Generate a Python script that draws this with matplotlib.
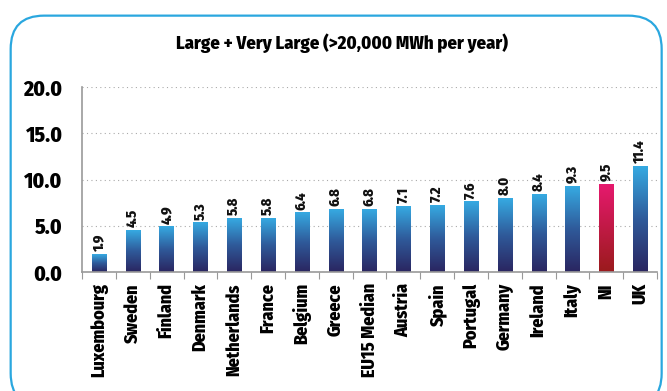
import numpy as np
import matplotlib.pyplot as plt
from matplotlib.colors import LinearSegmentedColormap
from matplotlib.patches import FancyBboxPatch

# ── Data ──────────────────────────────────────────────────────────────────────
countries = ["Luxembourg", "Sweden", "Finland", "Denmark", "Netherlands", "France",
             "Belgium", "Greece", "EU15 Median", "Austria", "Spain", "Portugal",
             "Germany", "Ireland", "Italy", "NI", "UK"]
values = [1.9, 4.5, 4.9, 5.3, 5.8, 5.8, 6.4, 6.8, 6.8, 7.1, 7.2, 7.6,
          8.0, 8.4, 9.3, 9.5, 11.4]
highlight = "NI"
yticks = [0.0, 5.0, 10.0, 15.0, 20.0]

# ── Style ─────────────────────────────────────────────────────────────────────
WEIGHT = 800
plt.rcParams["font.family"] = ["Fira Sans Condensed", "DejaVu Sans"]
plt.rcParams["font.weight"] = WEIGHT

blue_cmap = LinearSegmentedColormap.from_list("blue", ["#2a2560", "#2f5a9a", "#36aae2"])
red_cmap = LinearSegmentedColormap.from_list("red", ["#9a1a1c", "#c01a45", "#e6196e"])

fig = plt.figure(figsize=(6.67, 3.91), dpi=100)
ax = fig.add_axes([0.123, 0.304, 0.862, 0.473])

# rounded frame around the whole chart
frame = FancyBboxPatch((0.016, -0.04), 0.976, 1.0, boxstyle="round,pad=0,rounding_size=0.05",
                       transform=fig.transFigure, facecolor="none", edgecolor="#2aa7df",
                       linewidth=1.6, clip_on=False, mutation_aspect=667 / 391)
fig.patches.append(frame)

x = np.arange(len(countries))
width = 0.42
bars = ax.bar(x, values, width=width, color="none", zorder=2)

# vertical gradient fill for each bar
grad = np.linspace(0, 1, 256).reshape(-1, 1)
for name, bar in zip(countries, bars):
    cmap = red_cmap if name == highlight else blue_cmap
    x0, y0 = bar.get_x(), bar.get_y()
    h = bar.get_height()
    ax.imshow(grad, cmap=cmap, origin="lower", aspect="auto",
              extent=(x0, x0 + width, y0, y0 + h), zorder=2)

for xi, v in zip(x, values):
    ax.text(xi, v + 0.35, f"{v:.1f}", rotation=90, ha="center", va="bottom",
            fontsize=10.5, fontweight=WEIGHT, color="#111111")

ax.set_xlim(-0.5, len(countries) - 0.5)
ax.set_ylim(0, 20)
ax.set_yticks(yticks)
ax.set_yticklabels([f"{t:.1f}" for t in yticks], fontsize=15.5, fontweight=WEIGHT)
ax.yaxis.grid(True, linestyle=(0, (1, 3)), color="#aaaaaa", linewidth=0.8)
ax.set_axisbelow(True)
ax.tick_params(axis="y", length=0, pad=14)

# category labels centred, tick marks between categories
ax.set_xticks(x)
ax.set_xticklabels(countries, rotation=90, fontsize=13, fontweight=WEIGHT)
ax.tick_params(axis="x", length=0, pad=8)
ax.set_xticks(np.arange(-0.5, len(countries)), minor=True)
ax.tick_params(axis="x", which="minor", length=5, color="#999999", width=0.8)

for side in ["top", "right"]:
    ax.spines[side].set_visible(False)
for side in ["left", "bottom"]:
    ax.spines[side].set_color("#999999")
    ax.spines[side].set_linewidth(1.2)

fig.text(0.513, 0.89, "Large + Very Large (>20,000 MWh per year)", ha="center",
         va="center", fontsize=13.4, fontweight=WEIGHT)

fig.savefig("out.png", dpi=100)
